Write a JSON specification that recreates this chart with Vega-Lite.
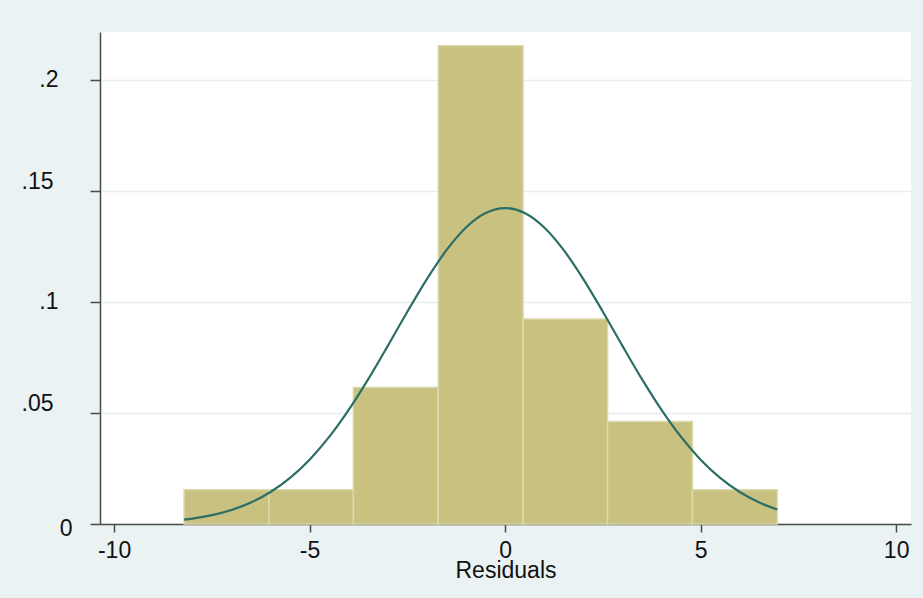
{
  "$schema": "https://vega.github.io/schema/vega-lite/v6.json",
  "width": 811,
  "height": 492,
  "autosize": {"type": "none"},
  "padding": {"left": 100, "top": 32, "right": 12, "bottom": 74},
  "background": "#EAF2F3",
  "config": {
    "view": {"fill": "#FFFFFF", "stroke": null},
    "font": "Liberation Sans",
    "axis": {"labelFont": "Liberation Sans", "titleFont": "Liberation Sans"}
  },
  "datasets": {
    "bins": [
      {"bin_start": -8.21, "bin_end": -6.04, "density": 0.0154},
      {"bin_start": -6.04, "bin_end": -3.88, "density": 0.0154},
      {"bin_start": -3.88, "bin_end": -1.71, "density": 0.0615},
      {"bin_start": -1.71, "bin_end": 0.46, "density": 0.2154},
      {"bin_start": 0.46, "bin_end": 2.62, "density": 0.0923},
      {"bin_start": 2.62, "bin_end": 4.79, "density": 0.0462},
      {"bin_start": 4.79, "bin_end": 6.96, "density": 0.0154}
    ],
    "curve": [
      {"x": -8.21, "density": 0.00195},
      {"x": -8, "density": 0.00242},
      {"x": -7.5, "density": 0.00397},
      {"x": -7, "density": 0.0063},
      {"x": -6.5, "density": 0.00967},
      {"x": -6, "density": 0.0144},
      {"x": -5.5, "density": 0.02076},
      {"x": -5, "density": 0.02899},
      {"x": -4.5, "density": 0.03922},
      {"x": -4, "density": 0.05141},
      {"x": -3.5, "density": 0.06526},
      {"x": -3, "density": 0.08025},
      {"x": -2.5, "density": 0.09561},
      {"x": -2, "density": 0.11032},
      {"x": -1.5, "density": 0.12332},
      {"x": -1, "density": 0.13353},
      {"x": -0.5, "density": 0.14005},
      {"x": 0, "density": 0.1423},
      {"x": 0.5, "density": 0.14005},
      {"x": 1, "density": 0.13353},
      {"x": 1.5, "density": 0.12332},
      {"x": 2, "density": 0.11032},
      {"x": 2.5, "density": 0.09561},
      {"x": 3, "density": 0.08025},
      {"x": 3.5, "density": 0.06526},
      {"x": 4, "density": 0.05141},
      {"x": 4.5, "density": 0.03922},
      {"x": 5, "density": 0.02899},
      {"x": 5.5, "density": 0.02076},
      {"x": 6, "density": 0.0144},
      {"x": 6.5, "density": 0.00967},
      {"x": 6.96, "density": 0.00652}
    ]
  },
  "layer": [
    {
      "data": {"name": "bins"},
      "mark": {"type": "bar", "fill": "#C9C17F", "stroke": "#DCD8AA", "strokeWidth": 1.5},
      "encoding": {
        "x": {
          "field": "bin_start",
          "type": "quantitative",
          "scale": {"domain": [-10.36, 10.38], "nice": false, "zero": false},
          "axis": {
            "title": "Residuals",
            "values": [-10, -5, 0, 5, 10],
            "labelExpr": "datum.value < 0 ? '-' + abs(datum.value) : '' + datum.value",
            "grid": false,
            "domainColor": "#4A4A4A",
            "domainWidth": 1.5,
            "tickColor": "#4A4A4A",
            "tickWidth": 1.5,
            "tickSize": 8,
            "labelFontSize": 23,
            "labelColor": "#111111",
            "labelPadding": 7,
            "labelFlush": false,
            "labelOverlap": false,
            "titleFontSize": 23,
            "titleFontWeight": "normal",
            "titleColor": "#111111",
            "titlePadding": -3
          }
        },
        "x2": {"field": "bin_end"},
        "y": {
          "field": "density",
          "type": "quantitative",
          "scale": {"domain": [0, 0.2216], "nice": false, "zero": true},
          "axis": {
            "title": null,
            "values": [0, 0.05, 0.1, 0.15, 0.2],
            "labelExpr": "datum.value == 0 ? '0' : replace(format(datum.value, '.2~f'), '0.', '.')",
            "grid": true,
            "gridColor": "#E6EEF0",
            "gridWidth": 1.5,
            "domainColor": "#4A4A4A",
            "domainWidth": 1.5,
            "tickColor": "#4A4A4A",
            "tickWidth": 1.5,
            "tickSize": 10,
            "labelFontSize": 23,
            "labelColor": "#111111",
            "labelAlign": "right",
            "labelFlush": false,
            "labelOverlap": false,
            "labelOffset": {"condition": [{"test": "datum.value == 0.15 || datum.value == 0.05", "value": -9}, {"test": "datum.value == 0", "value": 4}], "value": 0},
            "labelPadding": {"condition": [{"test": "datum.value == 0.15 || datum.value == 0.05", "value": 37}, {"test": "datum.value == 0", "value": 18}], "value": 32}
          }
        },
        "y2": {"datum": 0}
      }
    },
    {
      "data": {"name": "curve"},
      "mark": {"type": "line", "color": "#2B6E66", "strokeWidth": 2.2, "interpolate": "monotone"},
      "encoding": {
        "x": {"field": "x", "type": "quantitative"},
        "y": {"field": "density", "type": "quantitative"}
      }
    }
  ]
}
